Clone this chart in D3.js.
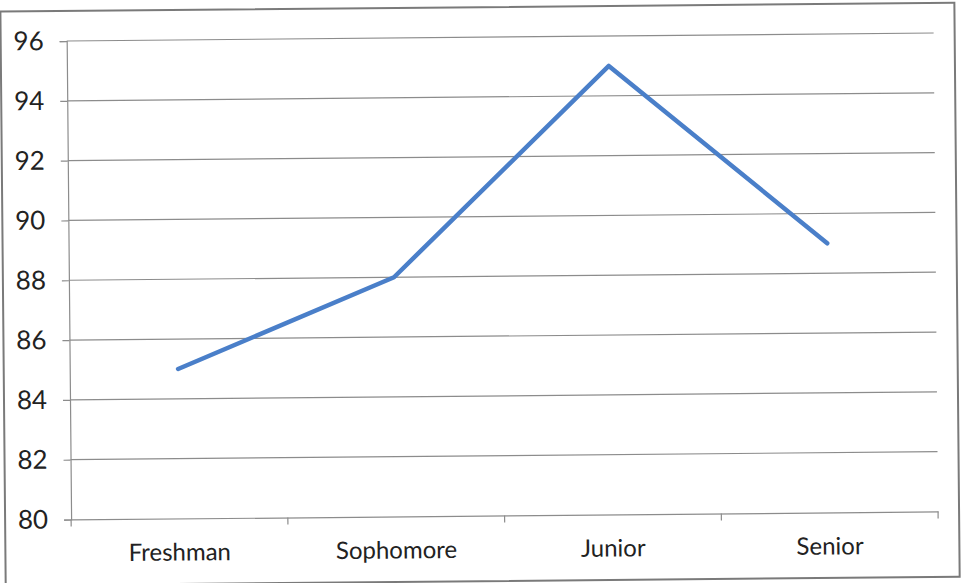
<!DOCTYPE html>
<html>
<head>
<meta charset="utf-8">
<script src="https://cdn.jsdelivr.net/npm/d3@7/dist/d3.min.js"></script>
<style>
  html, body { margin: 0; padding: 0; background: #ffffff; }
  svg { display: block; }
</style>
</head>
<body>
<svg id="chart" width="963" height="583"></svg>
<script>
const categories = ["Freshman", "Sophomore", "Junior", "Senior"];
const scores = [85, 88, 95, 89];
const yTicks = [80, 82, 84, 86, 88, 90, 92, 94, 96];

const W = 963, H = 583;
const margin = { left: 69, right: 27, top: 37, bottom: 67.5 };
const fontFamily = "Lato, 'Open Sans', sans-serif";

const svg = d3.select("#chart");
svg.append("rect").attr("width", W).attr("height", H).attr("fill", "#fff");

// slight scan tilt
const g = svg.append("g").attr("transform", "rotate(-0.53, 500, 290)");

// outer border
g.append("rect")
  .attr("x", 3).attr("y", 7)
  .attr("width", 954).attr("height", 574)
  .attr("fill", "none")
  .attr("stroke", "#7a7a7a")
  .attr("stroke-width", 2);

const x = d3.scaleBand()
  .domain(categories)
  .range([margin.left, W - margin.right])
  .paddingInner(0).paddingOuter(0);

const y = d3.scaleLinear()
  .domain([80, 96])
  .range([H - margin.bottom, margin.top]);

// gridlines
g.append("g")
  .selectAll("line")
  .data(yTicks.filter(d => d !== 80))
  .join("line")
  .attr("x1", margin.left).attr("x2", W - margin.right)
  .attr("y1", d => y(d)).attr("y2", d => y(d))
  .attr("stroke", "#8c8c8c")
  .attr("stroke-width", 1.2);

// y axis
const yAxis = g.append("g")
  .attr("transform", `translate(${margin.left},0)`)
  .call(d3.axisLeft(y).tickValues(yTicks).tickSize(7).tickPadding(16).tickFormat(d3.format("d")));
yAxis.select(".domain").attr("stroke", "#8c8c8c").attr("stroke-width", 1.2);
yAxis.selectAll(".tick line").attr("stroke", "#8c8c8c").attr("stroke-width", 1.2);
yAxis.selectAll(".tick text")
  .attr("font-family", fontFamily)
  .attr("font-size", 26)
  .attr("fill", "#222");

// x axis
const xAxis = g.append("g")
  .attr("transform", `translate(0,${H - margin.bottom})`)
  .call(d3.axisBottom(x).tickSize(0).tickPadding(25));
xAxis.select(".domain").attr("stroke", "#8c8c8c").attr("stroke-width", 1.2);
xAxis.selectAll(".tick text")
  .attr("font-family", fontFamily)
  .attr("font-size", 24)
  .attr("fill", "#222");

// category boundary ticks
const bounds = categories.map(c => x(c)).concat([x(categories[categories.length - 1]) + x.bandwidth()]);
g.append("g")
  .selectAll("line")
  .data(bounds)
  .join("line")
  .attr("x1", d => d).attr("x2", d => d)
  .attr("y1", H - margin.bottom).attr("y2", H - margin.bottom + 7)
  .attr("stroke", "#8c8c8c")
  .attr("stroke-width", 1.2);

// line
const line = d3.line()
  .x((d, i) => x(categories[i]) + x.bandwidth() / 2)
  .y(d => y(d));

g.append("path")
  .datum(scores)
  .attr("d", line)
  .attr("fill", "none")
  .attr("stroke", "#4a7fc9")
  .attr("stroke-width", 4.5)
  .attr("stroke-linejoin", "round")
  .attr("stroke-linecap", "round");
</script>
</body>
</html>
